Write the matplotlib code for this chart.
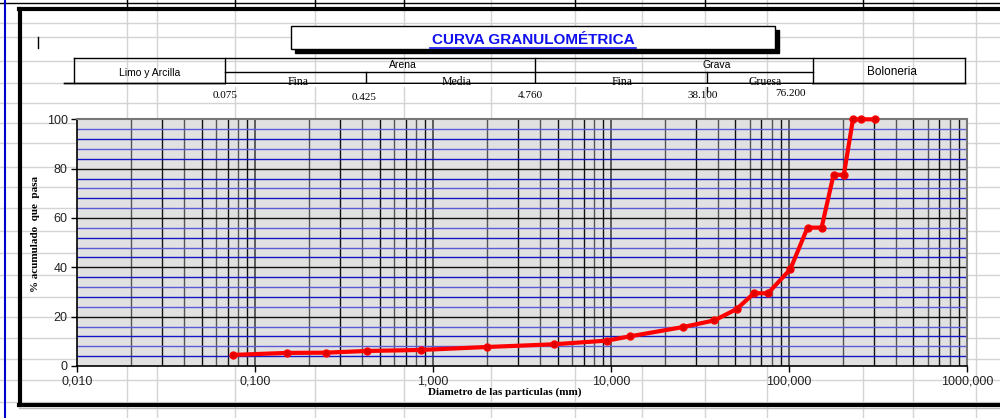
import matplotlib
matplotlib.use("Agg")
import matplotlib.pyplot as plt
from matplotlib.lines import Line2D
from matplotlib.patches import Rectangle
from matplotlib.ticker import FixedLocator, NullFormatter
import numpy as np

# ---------------- data ----------------
diametro = [0.075, 0.15, 0.25, 0.425, 0.85, 2.0, 4.76, 9.5, 12.7, 25.4, 38.1,
            50.8, 63.5, 76.2, 101.6, 127.0, 152.4, 177.8, 203.2, 228.6, 254.0, 304.8]
pasa = [4.5, 5.3, 5.4, 6.1, 6.5, 7.7, 8.8, 10.3, 12.0, 15.8, 18.5,
        23.1, 29.5, 29.5, 39.2, 56.1, 56.1, 77.5, 77.5, 100.0, 100.0, 100.0]
x_ticks = [0.01, 0.1, 1, 10, 100, 1000]
x_ticklabels = ["0,010", "0,100", "1,000", "10,000", "100,000", "1000,000"]
y_ticks = [0, 20, 40, 60, 80, 100]
limites = ["0.075", "0.425", "4.760", "38.100", "76.200"]

W, H = 1000, 418
fig = plt.figure(figsize=(W / 100, H / 100), dpi=100)
fig.patch.set_facecolor("white")

def fx(x):
    return x / W

def fy(y):
    return 1 - y / H

def hline(x0, x1, y, **kw):
    fig.add_artist(Line2D([fx(x0), fx(x1)], [fy(y), fy(y)], **kw))

def vline(x, y0, y1, **kw):
    fig.add_artist(Line2D([fx(x), fx(x)], [fy(y0), fy(y1)], **kw))

# spreadsheet background grid
grid_kw = dict(color="#d4d4d4", lw=1, zorder=0)
for gx in [127, 157, 235, 315, 404, 491, 575, 642, 705, 767, 863, 913, 976]:
    vline(gx, 0, H, **grid_kw)
for gy in [23, 37, 61, 83, 103, 123, 143, 167, 187, 208, 231, 253, 275, 297, 317, 338, 359, 380, 402]:
    hline(0, W, gy, **grid_kw)

# top cell border row
hline(0, W, 3, color="black", lw=1, zorder=1)
for gx in [127, 235, 315, 404, 575, 705, 863]:
    vline(gx, 0, 6, color="black", lw=1, zorder=1)

# blue left line
vline(5, 0, H, color="#0000cc", lw=1.5, zorder=2)

# chart object border
hline(19, W, 9, color="black", lw=3, zorder=2)
vline(19.5, 9, 405, color="black", lw=3, zorder=2)
hline(19, W, 405, color="black", lw=3, zorder=2)
hline(19, W, 408, color="#bbbbbb", lw=1, zorder=2)

# cursor mark
vline(38, 37, 48, color="black", lw=1, zorder=2)

# title box with shadow
fig.add_artist(Rectangle((fx(295), fy(53)), fx(484), 23 / H, transform=fig.transFigure,
                         facecolor="black", edgecolor="black", zorder=2))
fig.add_artist(Rectangle((fx(291), fy(49)), fx(484), 23 / H, transform=fig.transFigure,
                         facecolor="white", edgecolor="black", lw=1, zorder=3))
fig.text(fx(533), fy(40), "CURVA GRANULOMÉTRICA", color="#1010ee", fontsize=11,
         fontweight="bold", family="Liberation Sans", ha="center", va="center", zorder=4)
hline(430, 636, 47.5, color="#1010ee", lw=1.2, zorder=4)

# header table
tk = dict(color="black", lw=1, zorder=3)
hline(74, 965, 58, **tk)
hline(64, 965, 83, **tk)
hline(225, 813, 72, **tk)
vline(74, 58, 83, **tk)
vline(225, 58, 83, **tk)
vline(535, 58, 83, **tk)
vline(813, 58, 83, **tk)
vline(965, 58, 83, **tk)
vline(366, 72, 83, **tk)
vline(707, 72, 92, **tk)

sans = "Liberation Sans"
serif = "Liberation Serif"
fig.text(fx(150), fy(73), "Limo y Arcilla", fontsize=7.5, family=sans, ha="center", va="center", zorder=4)
fig.text(fx(403), fy(65), "Arena", fontsize=7.5, family=sans, ha="center", va="center", zorder=4)
fig.text(fx(717), fy(65), "Grava", fontsize=7.5, family=sans, ha="center", va="center", zorder=4)
fig.text(fx(892), fy(72), "Boloneria", fontsize=8.5, family=sans, ha="center", va="center", zorder=4)
for label, xc in [("Fina", 298), ("Media", 457), ("Fina", 622), ("Gruesa", 765)]:
    fig.text(fx(xc), fy(85), label, fontsize=8.5, family=serif, ha="center", va="baseline", zorder=4)
# mask bottom of the sub-labels (clipped look)
fig.add_artist(Rectangle((fx(226), fy(87)), fx(586), 3.5 / H, transform=fig.transFigure,
                         facecolor="white", edgecolor="none", zorder=3.5))
hline(64, 965, 83, **tk)

for label, xc, yc in zip(limites, [225, 364, 530, 703, 790], [96, 98, 96, 95, 94]):
    fig.text(fx(xc), fy(yc), label, fontsize=8, family=serif, ha="center", va="center", zorder=4)

# ---------------- main axes ----------------
ax_l, ax_r, ax_t, ax_b = 77.3, 967, 119.3, 366
ax = fig.add_axes([fx(ax_l), fy(ax_b), (ax_r - ax_l) / W, (ax_b - ax_t) / H])
ax.set_facecolor("#e1e1e1")
ax.set_xscale("log")
ax.set_xlim(0.01, 1000)
ax.set_ylim(0, 100)

# vertical grid lines (minor: alternating black/gray)
for dec in [0.01, 0.1, 1, 10, 100]:
    for m in range(2, 10):
        c = "#111111" if m % 2 == 1 else "#555555"
        ax.axvline(dec * m, color=c, lw=1, zorder=1)
for dec in x_ticks[1:-1]:
    ax.axvline(dec, color="#444444", lw=1.2, zorder=1)

# horizontal grid lines
for yv in range(4, 100, 4):
    if yv % 20 == 0:
        continue
    c = "#1515c8" if (yv // 4) % 2 == 1 else "#5a5ad8"
    ax.axhline(yv, color=c, lw=1, zorder=1)
for yv in y_ticks[1:-1]:
    ax.axhline(yv, color="#111111", lw=1, zorder=1)

ax.plot(diametro, pasa, color="#ff0000", lw=3, marker="o", markersize=5,
        markerfacecolor="#e00000", markeredgecolor="#ff0000", zorder=5, clip_on=False)

ax.xaxis.set_major_locator(FixedLocator(x_ticks))
ax.set_xticklabels(x_ticklabels)
ax.xaxis.set_minor_formatter(NullFormatter())
ax.tick_params(axis="x", which="minor", length=0)
ax.set_yticks(y_ticks)
ax.tick_params(axis="both", which="major", length=4, width=1, labelsize=9, colors="black", pad=3)
for lab in ax.get_xticklabels() + ax.get_yticklabels():
    lab.set_family(sans)
    lab.set_color("#222222")

for side in ["top", "right"]:
    ax.spines[side].set_color("#777777")
    ax.spines[side].set_linewidth(1.5)
for side in ["left", "bottom"]:
    ax.spines[side].set_color("black")
    ax.spines[side].set_linewidth(1.2)

fig.text(fx(505), fy(392), "Diametro de las partículas (mm)", fontsize=8, family=serif,
         fontweight="bold", ha="center", va="center")
fig.text(fx(35), fy(234), "% acumulado  que  pasa", fontsize=8, family=serif,
         fontweight="bold", ha="center", va="center", rotation=90)

fig.savefig("out.png", dpi=100)
